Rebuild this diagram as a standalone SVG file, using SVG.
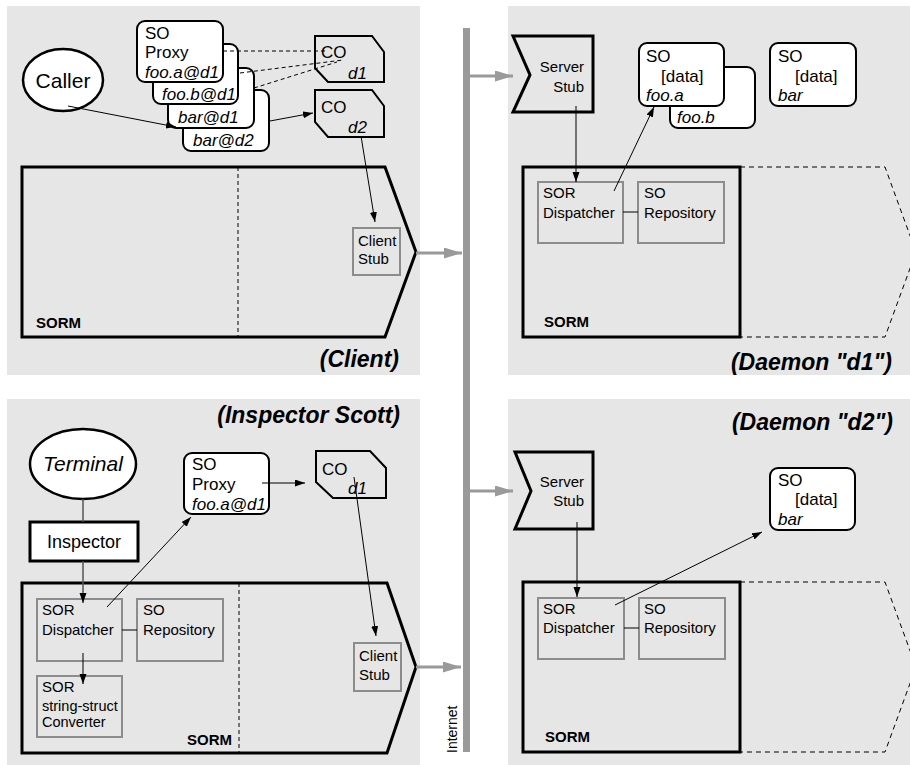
<svg xmlns="http://www.w3.org/2000/svg" width="910" height="765" viewBox="0 0 910 765">
<style>
text{font-family:"Liberation Sans",Arial,sans-serif;fill:#000}
.panel{fill:#e6e6e6;stroke:none}
.thick{fill:#e6e6e6;stroke:#000;stroke-width:3;stroke-linejoin:miter}
.wbox{fill:#fff;stroke:#000;stroke-width:2}
.gbox{fill:#e6e6e6;stroke:#8c8c8c;stroke-width:2}
.co{fill:#e6e6e6;stroke:#000;stroke-width:2}
.arr{stroke:#000;stroke-width:1;fill:none;marker-end:url(#ah)}
.garr{stroke:#9a9a9a;stroke-width:3;fill:none;marker-end:url(#gh)}
.dash{stroke:#000;stroke-width:1;fill:none;stroke-dasharray:4 3}
.dashext{stroke:#000;stroke-width:1;fill:none;stroke-dasharray:5 4}
.ln{stroke:#000;stroke-width:1;fill:none}
.s15{font-size:15px}
.s16{font-size:17px}
.it{font-style:italic}
.sorm{font-size:15px;font-weight:bold}
.title{font-size:23px;font-weight:bold;font-style:italic;text-anchor:end}
</style>
<defs>
<marker id="ah" markerUnits="userSpaceOnUse" markerWidth="11" markerHeight="8" refX="10" refY="3.5" orient="auto">
<path d="M0,0 L10,3.5 L0,7 z" fill="#000"/>
</marker>
<marker id="gh" markerUnits="userSpaceOnUse" markerWidth="19" markerHeight="12" refX="18" refY="5.5" orient="auto">
<path d="M0,0 L18,5.5 L0,11 z" fill="#9a9a9a"/>
</marker>
</defs>

<!-- panels -->
<g id="panels">
<rect class="panel" x="7" y="6" width="413" height="369"/>
<rect class="panel" x="508" y="6" width="402" height="369"/>
<rect class="panel" x="7" y="399" width="413" height="366"/>
<rect class="panel" x="508" y="399" width="402" height="366"/>
</g>

<g id="internet">
<rect x="463" y="28" width="7" height="724" fill="#9a9a9a"/>
<text transform="translate(457,753) rotate(-90)" font-size="14">Internet</text>
</g>

<!-- ===== Client panel ===== -->
<g id="client-sorm">
<polygon class="thick" points="22,167 385,167 416,252 385,337 22,337"/>
<line class="dash" x1="238" y1="167" x2="238" y2="337"/>
<text class="sorm" x="36" y="328">SORM</text>
</g>
<g id="client-stub">
<rect class="gbox" x="353" y="228" width="47" height="47"/>
<text class="s15" x="358" y="246">Client</text>
<text class="s15" x="358" y="264">Stub</text>
</g>
<g id="caller">
<ellipse cx="63" cy="80" rx="40" ry="31" fill="#fff" stroke="#000" stroke-width="2.5"/>
<text x="63" y="88" font-size="21" text-anchor="middle">Caller</text>
</g>
<g id="proxy-bar-d2">
<rect class="wbox" x="183" y="90" width="86" height="61" rx="8"/>
<text class="s16 it" x="193" y="146">bar@d2</text>
</g>
<g id="proxy-bar-d1">
<rect class="wbox" x="168" y="68" width="86" height="60" rx="8"/>
<text class="s16 it" x="178" y="123">bar@d1</text>
</g>
<g id="proxy-foo-b">
<rect class="wbox" x="153" y="44" width="85" height="60" rx="8"/>
<text class="s16 it" x="162" y="100">foo.b@d1</text>
</g>
<g id="proxy-foo-a">
<rect class="wbox" x="137" y="21" width="86" height="61" rx="8"/>
<text class="s16" x="145" y="39">SO</text>
<text class="s16" x="145" y="58">Proxy</text>
<text class="s16 it" x="145" y="78">foo.a@d1</text>
</g>
<g id="client-co-d1">
<polygon class="co" points="315,36 372,36 384,52 384,82 328,82 315,68"/>
<text class="s16" x="321" y="58">CO</text>
<text class="s16 it" x="348" y="79">d1</text>
</g>
<g id="client-co-d2">
<polygon class="co" points="315,90 372,90 384,106 384,137 328,137 315,122"/>
<text class="s16" x="321" y="113">CO</text>
<text class="s16 it" x="348" y="133">d2</text>
</g>
<text class="title" x="399" y="367">(Client)</text>

<!-- ===== Daemon d1 ===== -->
<g id="d1-sorm">
<polyline class="dashext" points="740,167 885,167 916,252 885,337 740,337"/>
<rect class="thick" x="523" y="167" width="217" height="170"/>
<text class="sorm" x="544" y="327">SORM</text>
</g>
<g id="d1-dispatcher">
<rect class="gbox" x="538" y="182" width="85" height="61"/>
<text class="s15" x="543" y="198">SOR</text>
<text class="s15" x="543" y="218">Dispatcher</text>
</g>
<g id="d1-repository">
<rect class="gbox" x="638" y="182" width="86" height="61"/>
<text class="s15" x="644" y="198">SO</text>
<text class="s15" x="644" y="218">Repository</text>
</g>
<g id="d1-server-stub">
<polygon class="thick" points="513,36 593,36 593,112 513,112 530,75"/>
<text class="s15" x="584" y="72" text-anchor="end">Server</text>
<text class="s15" x="584" y="92" text-anchor="end">Stub</text>
</g>
<g id="d1-so-foo-b">
<rect class="wbox" x="670" y="67" width="85" height="61" rx="8"/>
<text class="s16 it" x="677" y="123">foo.b</text>
</g>
<g id="d1-so-foo-a">
<rect class="wbox" x="639" y="43" width="85" height="63" rx="8"/>
<text class="s16" x="646" y="62">SO</text>
<text class="s16" x="661" y="82">[data]</text>
<text class="s16 it" x="646" y="101">foo.a</text>
</g>
<g id="d1-so-bar">
<rect class="wbox" x="770" y="43" width="86" height="63" rx="8"/>
<text class="s16" x="778" y="62">SO</text>
<text class="s16" x="795" y="82">[data]</text>
<text class="s16 it" x="778" y="101">bar</text>
</g>
<text class="title" x="892" y="370">(Daemon "d1")</text>

<!-- ===== Inspector Scott ===== -->
<g id="insp-sorm">
<polygon class="thick" points="22,583 387,583 416,667 387,753 22,753"/>
<line class="dash" x1="239" y1="583" x2="239" y2="753" stroke="#555"/>
<text class="sorm" x="232" y="745" text-anchor="end">SORM</text>
</g>
<g id="terminal">
<ellipse cx="83" cy="464" rx="53" ry="35" fill="#fff" stroke="#000" stroke-width="2.5"/>
<text x="83" y="471" font-size="21" font-style="italic" text-anchor="middle">Terminal</text>
</g>
<g id="inspector">
<rect x="30" y="522" width="108" height="39" fill="#fff" stroke="#000" stroke-width="3"/>
<text x="84" y="548" font-size="18" text-anchor="middle">Inspector</text>
</g>
<g id="insp-proxy">
<rect class="wbox" x="184" y="453" width="85" height="61" rx="8"/>
<text class="s16" x="192" y="470">SO</text>
<text class="s16" x="192" y="490">Proxy</text>
<text class="s16 it" x="192" y="510">foo.a@d1</text>
</g>
<g id="insp-co-d1">
<polygon class="co" points="316,451 370,451 386,468 386,498 333,498 316,482"/>
<text class="s16" x="322" y="475">CO</text>
<text class="s16 it" x="348" y="494">d1</text>
</g>
<g id="insp-dispatcher">
<rect class="gbox" x="37" y="599" width="85" height="62"/>
<text class="s15" x="42" y="615">SOR</text>
<text class="s15" x="42" y="635">Dispatcher</text>
</g>
<g id="insp-repository">
<rect class="gbox" x="137" y="599" width="86" height="62"/>
<text class="s15" x="143" y="615">SO</text>
<text class="s15" x="143" y="635">Repository</text>
</g>
<g id="insp-converter">
<rect class="gbox" x="37" y="676" width="85" height="61"/>
<text class="s15" x="42" y="692">SOR</text>
<text font-size="14.5" x="42" y="711">string-struct</text>
<text font-size="14.5" x="42" y="727">Converter</text>
</g>
<g id="insp-client-stub">
<rect class="gbox" x="354" y="643" width="47" height="48"/>
<text class="s15" x="359" y="661">Client</text>
<text class="s15" x="359" y="680">Stub</text>
</g>
<text class="title" x="400" y="423">(Inspector Scott)</text>

<!-- ===== Daemon d2 ===== -->
<g id="d2-sorm">
<polyline class="dashext" points="740,582 885,582 916,667 885,752 740,752"/>
<rect class="thick" x="523" y="582" width="217" height="170"/>
<text class="sorm" x="545" y="742">SORM</text>
</g>
<g id="d2-dispatcher">
<rect class="gbox" x="538" y="598" width="86" height="61"/>
<text class="s15" x="543" y="614">SOR</text>
<text class="s15" x="543" y="633">Dispatcher</text>
</g>
<g id="d2-repository">
<rect class="gbox" x="639" y="598" width="86" height="61"/>
<text class="s15" x="644" y="614">SO</text>
<text class="s15" x="644" y="633">Repository</text>
</g>
<g id="d2-server-stub">
<polygon class="thick" points="515,452 593,452 593,529 515,529 531,491"/>
<text class="s15" x="584" y="487" text-anchor="end">Server</text>
<text class="s15" x="584" y="506" text-anchor="end">Stub</text>
</g>
<g id="d2-so-bar">
<rect class="wbox" x="770" y="468" width="85" height="62" rx="8"/>
<text class="s16" x="778" y="486">SO</text>
<text class="s16" x="795" y="505">[data]</text>
<text class="s16 it" x="778" y="525">bar</text>
</g>
<text class="title" x="893" y="430">(Daemon "d2")</text>

<!-- ===== connectors ===== -->
<g id="connectors">
<line class="dash" x1="223" y1="51" x2="325" y2="51"/>
<line class="dash" x1="240" y1="73" x2="343" y2="60"/>
<line class="dash" x1="254" y1="88" x2="337" y2="62"/>
<line class="arr" x1="68" y1="106" x2="176" y2="127"/>
<line class="arr" x1="270" y1="121" x2="313" y2="113"/>
<line class="arr" x1="361" y1="136" x2="375" y2="222"/>
<line class="garr" x1="416" y1="253" x2="462" y2="253"/>
<line class="garr" x1="470" y1="76" x2="513" y2="76"/>
<line class="arr" x1="576" y1="106" x2="576" y2="182"/>
<line class="arr" x1="614" y1="191" x2="654" y2="107"/>
<line class="ln" x1="623" y1="212" x2="638" y2="212"/>

<line x1="83" y1="499" x2="83" y2="522" stroke="#555" stroke-width="1.5"/>
<line x1="83" y1="561" x2="83" y2="603" stroke="#555" stroke-width="1.5" marker-end="url(#ah)"/>
<line class="arr" x1="107" y1="607" x2="191" y2="517"/>
<line class="arr" x1="262" y1="483" x2="305" y2="483"/>
<line class="arr" x1="354" y1="477" x2="376" y2="636"/>
<line class="ln" x1="122" y1="630" x2="137" y2="630"/>
<line class="arr" x1="83" y1="653" x2="83" y2="684"/>
<line class="garr" x1="416" y1="667" x2="461" y2="667"/>

<line class="garr" x1="470" y1="491" x2="513" y2="491"/>
<line class="arr" x1="577" y1="522" x2="577" y2="597"/>
<line class="arr" x1="615" y1="605" x2="762" y2="532"/>
<line class="ln" x1="624" y1="628" x2="639" y2="628"/>
</g>
</svg>
